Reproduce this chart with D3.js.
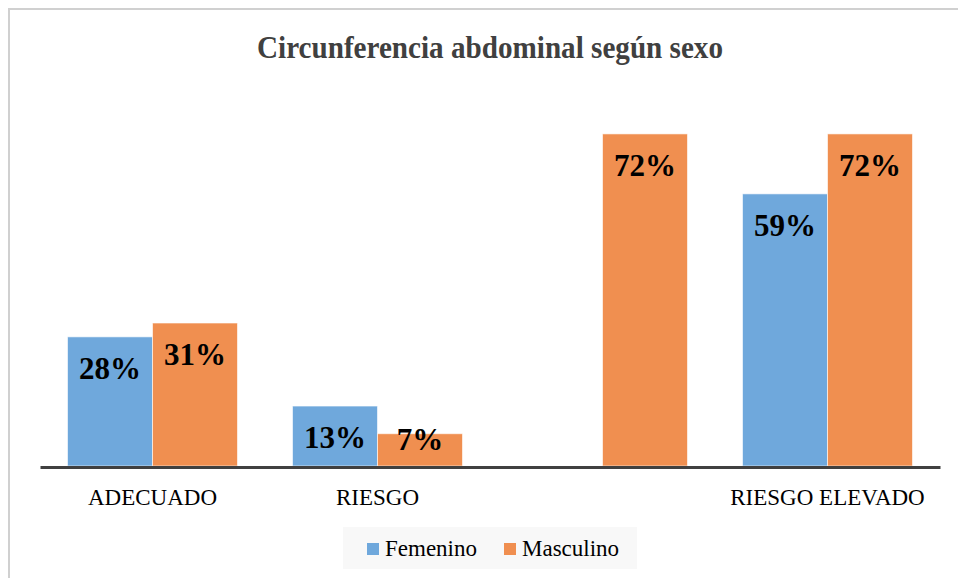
<!DOCTYPE html>
<html>
<head>
<meta charset="utf-8">
<script src="https://cdn.jsdelivr.net/npm/d3@7"></script>
<style>
  html, body { margin: 0; padding: 0; background: #ffffff; }
  svg { display: block; }
</style>
</head>
<body>
<svg id="chart" width="958" height="578"></svg>
<script>
const title = "Circunferencia abdominal según sexo";
const categories = ["ADECUADO", "RIESGO", "", "RIESGO ELEVADO"];
const seriesNames = ["Femenino", "Masculino"];
const femenino = [0.28, 0.13, null, 0.59];
const masculino = [0.31, 0.07, 0.72, 0.72];
const colors = ["#6FA8DC", "#F08F50"];

const svg = d3.select("#chart");
const W = 958, H = 578;
const serif = "Liberation Serif";

// outer frame
svg.append("path")
  .attr("d", `M9,${H + 5} L9,9 L${W + 5},9`)
  .attr("fill", "none").attr("stroke", "#d0d0d0").attr("stroke-width", 2);

// title
svg.append("text")
  .attr("x", 490).attr("y", 58)
  .attr("text-anchor", "middle")
  .style("font-family", serif).attr("font-weight", "bold")
  .attr("font-size", 32).attr("fill", "#404040")
  .attr("textLength", 466).attr("lengthAdjust", "spacingAndGlyphs")
  .text(title);

const x0 = d3.scaleBand().domain(categories).range([40, 940]).padding(0);
const x1 = d3.scaleBand().domain(seriesNames).range([27.5, x0.bandwidth() - 27.5]).padding(0);
const y = d3.scaleLinear().domain([0, 0.8]).range([466, 97]);

const data = [];
categories.forEach((c, i) => {
  [femenino, masculino].forEach((arr, s) => {
    if (arr[i] != null) data.push({ cat: c, series: seriesNames[s], value: arr[i], color: colors[s] });
  });
});

const g = svg.append("g");
g.selectAll("rect.bar").data(data).enter().append("rect")
  .attr("class", "bar")
  .attr("x", d => x0(d.cat) + x1(d.series))
  .attr("y", d => y(d.value))
  .attr("width", x1.bandwidth())
  .attr("height", d => y(0) - y(d.value))
  .attr("fill", d => d.color)
  .attr("stroke", "#ffffff").attr("stroke-opacity", 0.6).attr("stroke-width", 1);

g.selectAll("text.lbl").data(data).enter().append("text")
  .attr("class", "lbl")
  .attr("x", d => x0(d.cat) + x1(d.series) + x1.bandwidth() / 2)
  .attr("y", d => Math.min(y(d.value) + 42, y(0) - 16))
  .attr("text-anchor", "middle")
  .style("font-family", serif).attr("font-weight", "bold")
  .attr("font-size", 31).attr("fill", "#000000")
  .text(d => Math.round(d.value * 100) + "%");

// x axis
const axis = svg.append("g")
  .attr("transform", `translate(0,${y(0) + 1})`)
  .call(d3.axisBottom(x0).tickSize(0).tickPadding(22));
axis.select(".domain").attr("stroke", "#404040").attr("stroke-width", 3);
axis.selectAll("text")
  .style("font-family", serif).attr("font-size", 23).attr("fill", "#000000");

// legend
const lg = svg.append("g");
lg.append("rect").attr("x", 343).attr("y", 527).attr("width", 294).attr("height", 42).attr("fill", "#f8f8f8");
const legendItems = [
  { name: seriesNames[0], color: colors[0], sx: 367, tx: 385 },
  { name: seriesNames[1], color: colors[1], sx: 504, tx: 522 }
];
legendItems.forEach(it => {
  lg.append("rect").attr("x", it.sx).attr("y", 543).attr("width", 12).attr("height", 12).attr("fill", it.color);
  lg.append("text").attr("x", it.tx).attr("y", 556)
    .style("font-family", serif).attr("font-size", 23).attr("fill", "#000000")
    .text(it.name);
});
</script>
</body>
</html>
